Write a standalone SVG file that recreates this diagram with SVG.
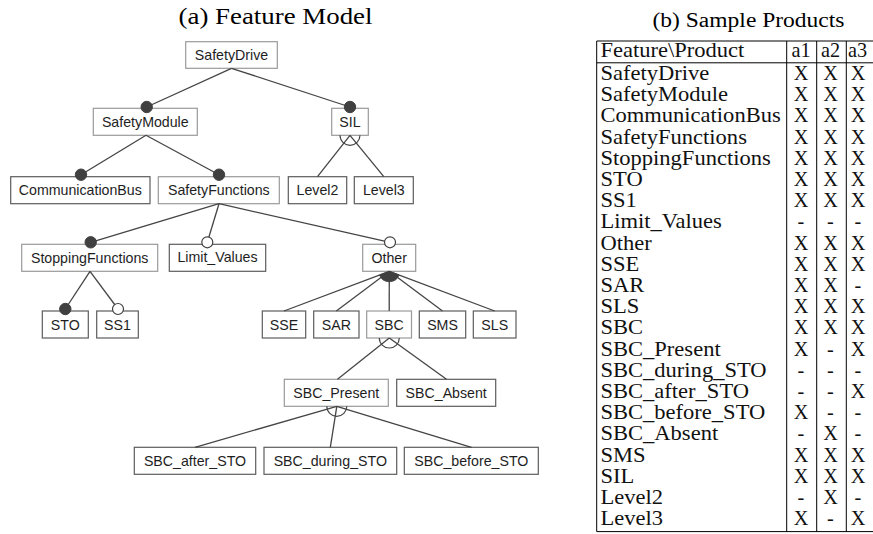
<svg xmlns="http://www.w3.org/2000/svg" width="873" height="534" viewBox="0 0 873 534">
<style>
.bg{fill:#fff}
.box{fill:#fff;stroke:#5c5c5c;stroke-width:1.2}
.box.p{stroke:#9a9a9a}
.lbl{font-family:"Liberation Sans",Arial,sans-serif;font-size:14.2px;fill:#1e1e1e;text-anchor:middle}
.ln{stroke:#454545;stroke-width:1.3;fill:none}
.arc{stroke:#454545;stroke-width:1.2;fill:none}
.man{fill:#404040;stroke:#404040;stroke-width:1}
.opt{fill:#fff;stroke:#404040;stroke-width:1.2}
.or{fill:#404040;stroke:#404040;stroke-width:0.8}
.ttl{font-family:"Liberation Serif","Times New Roman",serif;fill:#000;text-anchor:middle}
.t{font-family:"Liberation Serif","Times New Roman",serif;font-size:20.3px;fill:#111}
.c{text-anchor:middle}
.rule{stroke:#000;stroke-width:1;fill:none}
</style>
<rect class="bg" x="0" y="0" width="873" height="534"/>

<text class="ttl" x="275.5" y="23.5" font-size="23.5" textLength="194" lengthAdjust="spacingAndGlyphs">(a) Feature Model</text>
<text class="ttl" x="748.5" y="26.5" font-size="20.5" textLength="192" lengthAdjust="spacingAndGlyphs">(b) Sample Products</text>

<g id="nodes">
<g id="n-SafetyDrive"><rect class="box p" x="185.7" y="41.7" width="91.6" height="26.6"/><text class="lbl" x="231.5" y="60">SafetyDrive</text></g>
<g id="n-SafetyModule"><rect class="box p" x="93.3" y="108.3" width="104" height="27"/><text class="lbl" x="145.3" y="126.8">SafetyModule</text></g>
<g id="n-SIL"><rect class="box p" x="331.7" y="108.3" width="36.6" height="27"/><text class="lbl" x="350" y="126.8">SIL</text></g>
<g id="n-CommunicationBus"><rect class="box" x="10.7" y="176.7" width="139.3" height="27"/><text class="lbl" x="80.3" y="195.2">CommunicationBus</text></g>
<g id="n-SafetyFunctions"><rect class="box p" x="158.3" y="176.7" width="121" height="27"/><text class="lbl" x="218.8" y="195.2">SafetyFunctions</text></g>
<g id="n-Level2"><rect class="box" x="288.3" y="176.7" width="58.4" height="27"/><text class="lbl" x="317.5" y="195.2">Level2</text></g>
<g id="n-Level3"><rect class="box" x="354.3" y="176.7" width="59" height="27"/><text class="lbl" x="383.8" y="195.2">Level3</text></g>
<g id="n-StoppingFunctions"><rect class="box p" x="21.7" y="244.3" width="136" height="27"/><text class="lbl" x="89.7" y="262.8">StoppingFunctions</text></g>
<g id="n-Limit_Values"><rect class="box" x="169.3" y="244.3" width="96.4" height="27"/><text class="lbl" x="217.5" y="261.8">Limit_Values</text></g>
<g id="n-Other"><rect class="box p" x="362.7" y="244.3" width="53" height="27"/><text class="lbl" x="389.2" y="262.8">Other</text></g>
<g id="n-STO"><rect class="box" x="42.3" y="311" width="46" height="27"/><text class="lbl" x="65.3" y="329.5">STO</text></g>
<g id="n-SS1"><rect class="box" x="96.7" y="311" width="41.6" height="27"/><text class="lbl" x="117.5" y="329.5">SS1</text></g>
<g id="n-SSE"><rect class="box" x="262.3" y="311" width="43.4" height="27"/><text class="lbl" x="284" y="329.5">SSE</text></g>
<g id="n-SAR"><rect class="box" x="313.7" y="311" width="45.3" height="27"/><text class="lbl" x="336.3" y="329.5">SAR</text></g>
<g id="n-SBC"><rect class="box p" x="366.7" y="311" width="44.8" height="27"/><text class="lbl" x="389.1" y="329.5">SBC</text></g>
<g id="n-SMS"><rect class="box" x="419.3" y="311" width="46.4" height="27"/><text class="lbl" x="442.5" y="329.5">SMS</text></g>
<g id="n-SLS"><rect class="box" x="473.3" y="311" width="42.7" height="27"/><text class="lbl" x="494.7" y="329.5">SLS</text></g>
<g id="n-SBC_Present"><rect class="box p" x="284.3" y="379.3" width="104" height="27"/><text class="lbl" x="336.3" y="397.8">SBC_Present</text></g>
<g id="n-SBC_Absent"><rect class="box" x="396.7" y="379.3" width="99" height="27"/><text class="lbl" x="446.2" y="397.8">SBC_Absent</text></g>
<g id="n-SBC_after_STO"><rect class="box" x="134.3" y="447.3" width="121.4" height="27"/><text class="lbl" x="195" y="465.8">SBC_after_STO</text></g>
<g id="n-SBC_during_STO"><rect class="box" x="264" y="447.3" width="132.7" height="27"/><text class="lbl" x="330.3" y="465.8">SBC_during_STO</text></g>
<g id="n-SBC_before_STO"><rect class="box" x="404.3" y="447.3" width="134" height="27"/><text class="lbl" x="471.3" y="465.8">SBC_before_STO</text></g>
</g>

<g id="connectors">
<line class="ln" x1="231.5" y1="68.3" x2="146.7" y2="107"/>
<line class="ln" x1="231.5" y1="68.3" x2="350" y2="107"/>
<line class="ln" x1="146" y1="135.3" x2="81" y2="174.7"/>
<line class="ln" x1="146" y1="135.3" x2="219" y2="174.7"/>
<line class="ln" x1="350" y1="135.3" x2="317.5" y2="176.7"/>
<line class="ln" x1="350" y1="135.3" x2="383.8" y2="176.7"/>
<path class="arc" d="M340,135.3 A10,10 0 0 0 360,135.3"/>
<line class="ln" x1="219" y1="203.7" x2="90.7" y2="242.3"/>
<line class="ln" x1="219" y1="203.7" x2="207.3" y2="242.3"/>
<line class="ln" x1="219" y1="203.7" x2="390" y2="242.3"/>
<line class="ln" x1="90" y1="271.3" x2="65.3" y2="309"/>
<line class="ln" x1="90" y1="271.3" x2="118" y2="309"/>
<line class="ln" x1="389.3" y1="271.3" x2="284" y2="311"/>
<line class="ln" x1="389.3" y1="271.3" x2="336.3" y2="311"/>
<line class="ln" x1="389.3" y1="271.3" x2="389.2" y2="311"/>
<line class="ln" x1="389.3" y1="271.3" x2="442.5" y2="311"/>
<line class="ln" x1="389.3" y1="271.3" x2="494.7" y2="311"/>
<path class="or" d="M389.3,271.3 L399.1,275 A10.5,10.5 0 0 1 379.5,275 Z"/>
<line class="ln" x1="389.3" y1="338" x2="337.5" y2="379.3"/>
<line class="ln" x1="389.3" y1="338" x2="446.5" y2="379.3"/>
<path class="arc" d="M379.3,338 A10,10 0 0 0 399.3,338"/>
<line class="ln" x1="336.8" y1="406.3" x2="195" y2="447.3"/>
<line class="ln" x1="336.8" y1="406.3" x2="330.3" y2="447.3"/>
<line class="ln" x1="336.8" y1="406.3" x2="471.5" y2="447.3"/>
<path class="arc" d="M326.8,406.3 A10,10 0 0 0 346.8,406.3"/>
<circle class="man" cx="146.7" cy="107" r="5.7"/>
<circle class="man" cx="350" cy="107" r="5.7"/>
<circle class="man" cx="81" cy="174.7" r="5.7"/>
<circle class="man" cx="219" cy="174.7" r="5.7"/>
<circle class="man" cx="90.7" cy="242.3" r="5.7"/>
<circle class="opt" cx="207.3" cy="242.3" r="5.5"/>
<circle class="opt" cx="390" cy="242.3" r="5.5"/>
<circle class="man" cx="65.3" cy="309" r="5.7"/>
<circle class="opt" cx="118" cy="309" r="5.5"/>
</g>

<g id="table">
<line class="rule" x1="596.7" y1="41" x2="873" y2="41"/>
<line class="rule" x1="596.7" y1="62.8" x2="873" y2="62.8"/>
<line class="rule" x1="596.7" y1="531.6" x2="873" y2="531.6"/>
<line class="rule" x1="596.7" y1="41" x2="596.7" y2="531.6"/>
<line class="rule" x1="786.7" y1="41" x2="786.7" y2="531.6"/>
<line class="rule" x1="816.7" y1="41" x2="816.7" y2="531.6"/>
<line class="rule" x1="846.3" y1="41" x2="846.3" y2="531.6"/>
<g transform="translate(600.5,0) scale(1.11,1)">
<text class="t" x="0" y="57">Feature\Product</text>
<text class="t" x="0" y="80">SafetyDrive</text>
<text class="t" x="0" y="101.2">SafetyModule</text>
<text class="t" x="0" y="122.4">CommunicationBus</text>
<text class="t" x="0" y="143.6">SafetyFunctions</text>
<text class="t" x="0" y="164.8">StoppingFunctions</text>
<text class="t" x="0" y="186">STO</text>
<text class="t" x="0" y="207.2">SS1</text>
<text class="t" x="0" y="228.4">Limit_Values</text>
<text class="t" x="0" y="249.6">Other</text>
<text class="t" x="0" y="270.8">SSE</text>
<text class="t" x="0" y="292">SAR</text>
<text class="t" x="0" y="313.2">SLS</text>
<text class="t" x="0" y="334.4">SBC</text>
<text class="t" x="0" y="355.6">SBC_Present</text>
<text class="t" x="0" y="376.8">SBC_during_STO</text>
<text class="t" x="0" y="398">SBC_after_STO</text>
<text class="t" x="0" y="419.2">SBC_before_STO</text>
<text class="t" x="0" y="440.4">SBC_Absent</text>
<text class="t" x="0" y="461.6">SMS</text>
<text class="t" x="0" y="482.8">SIL</text>
<text class="t" x="0" y="504">Level2</text>
<text class="t" x="0" y="525.2">Level3</text>
</g>
<g class="c">
<text class="t c" x="801" y="57">a1</text><text class="t c" x="830.5" y="57">a2</text><text class="t c" x="857.5" y="57">a3</text>
<text class="t c" x="801" y="80">X</text><text class="t c" x="830.5" y="80">X</text><text class="t c" x="858" y="80">X</text>
<text class="t c" x="801" y="101.2">X</text><text class="t c" x="830.5" y="101.2">X</text><text class="t c" x="858" y="101.2">X</text>
<text class="t c" x="801" y="122.4">X</text><text class="t c" x="830.5" y="122.4">X</text><text class="t c" x="858" y="122.4">X</text>
<text class="t c" x="801" y="143.6">X</text><text class="t c" x="830.5" y="143.6">X</text><text class="t c" x="858" y="143.6">X</text>
<text class="t c" x="801" y="164.8">X</text><text class="t c" x="830.5" y="164.8">X</text><text class="t c" x="858" y="164.8">X</text>
<text class="t c" x="801" y="186">X</text><text class="t c" x="830.5" y="186">X</text><text class="t c" x="858" y="186">X</text>
<text class="t c" x="801" y="207.2">X</text><text class="t c" x="830.5" y="207.2">X</text><text class="t c" x="858" y="207.2">X</text>
<text class="t c" x="801" y="228.4">-</text><text class="t c" x="830.5" y="228.4">-</text><text class="t c" x="858" y="228.4">-</text>
<text class="t c" x="801" y="249.6">X</text><text class="t c" x="830.5" y="249.6">X</text><text class="t c" x="858" y="249.6">X</text>
<text class="t c" x="801" y="270.8">X</text><text class="t c" x="830.5" y="270.8">X</text><text class="t c" x="858" y="270.8">X</text>
<text class="t c" x="801" y="292">X</text><text class="t c" x="830.5" y="292">X</text><text class="t c" x="858" y="292">-</text>
<text class="t c" x="801" y="313.2">X</text><text class="t c" x="830.5" y="313.2">X</text><text class="t c" x="858" y="313.2">X</text>
<text class="t c" x="801" y="334.4">X</text><text class="t c" x="830.5" y="334.4">X</text><text class="t c" x="858" y="334.4">X</text>
<text class="t c" x="801" y="355.6">X</text><text class="t c" x="830.5" y="355.6">-</text><text class="t c" x="858" y="355.6">X</text>
<text class="t c" x="801" y="376.8">-</text><text class="t c" x="830.5" y="376.8">-</text><text class="t c" x="858" y="376.8">-</text>
<text class="t c" x="801" y="398">-</text><text class="t c" x="830.5" y="398">-</text><text class="t c" x="858" y="398">X</text>
<text class="t c" x="801" y="419.2">X</text><text class="t c" x="830.5" y="419.2">-</text><text class="t c" x="858" y="419.2">-</text>
<text class="t c" x="801" y="440.4">-</text><text class="t c" x="830.5" y="440.4">X</text><text class="t c" x="858" y="440.4">-</text>
<text class="t c" x="801" y="461.6">X</text><text class="t c" x="830.5" y="461.6">X</text><text class="t c" x="858" y="461.6">X</text>
<text class="t c" x="801" y="482.8">X</text><text class="t c" x="830.5" y="482.8">X</text><text class="t c" x="858" y="482.8">X</text>
<text class="t c" x="801" y="504">-</text><text class="t c" x="830.5" y="504">X</text><text class="t c" x="858" y="504">-</text>
<text class="t c" x="801" y="525.2">X</text><text class="t c" x="830.5" y="525.2">-</text><text class="t c" x="858" y="525.2">X</text>
</g>
</g>
</svg>
